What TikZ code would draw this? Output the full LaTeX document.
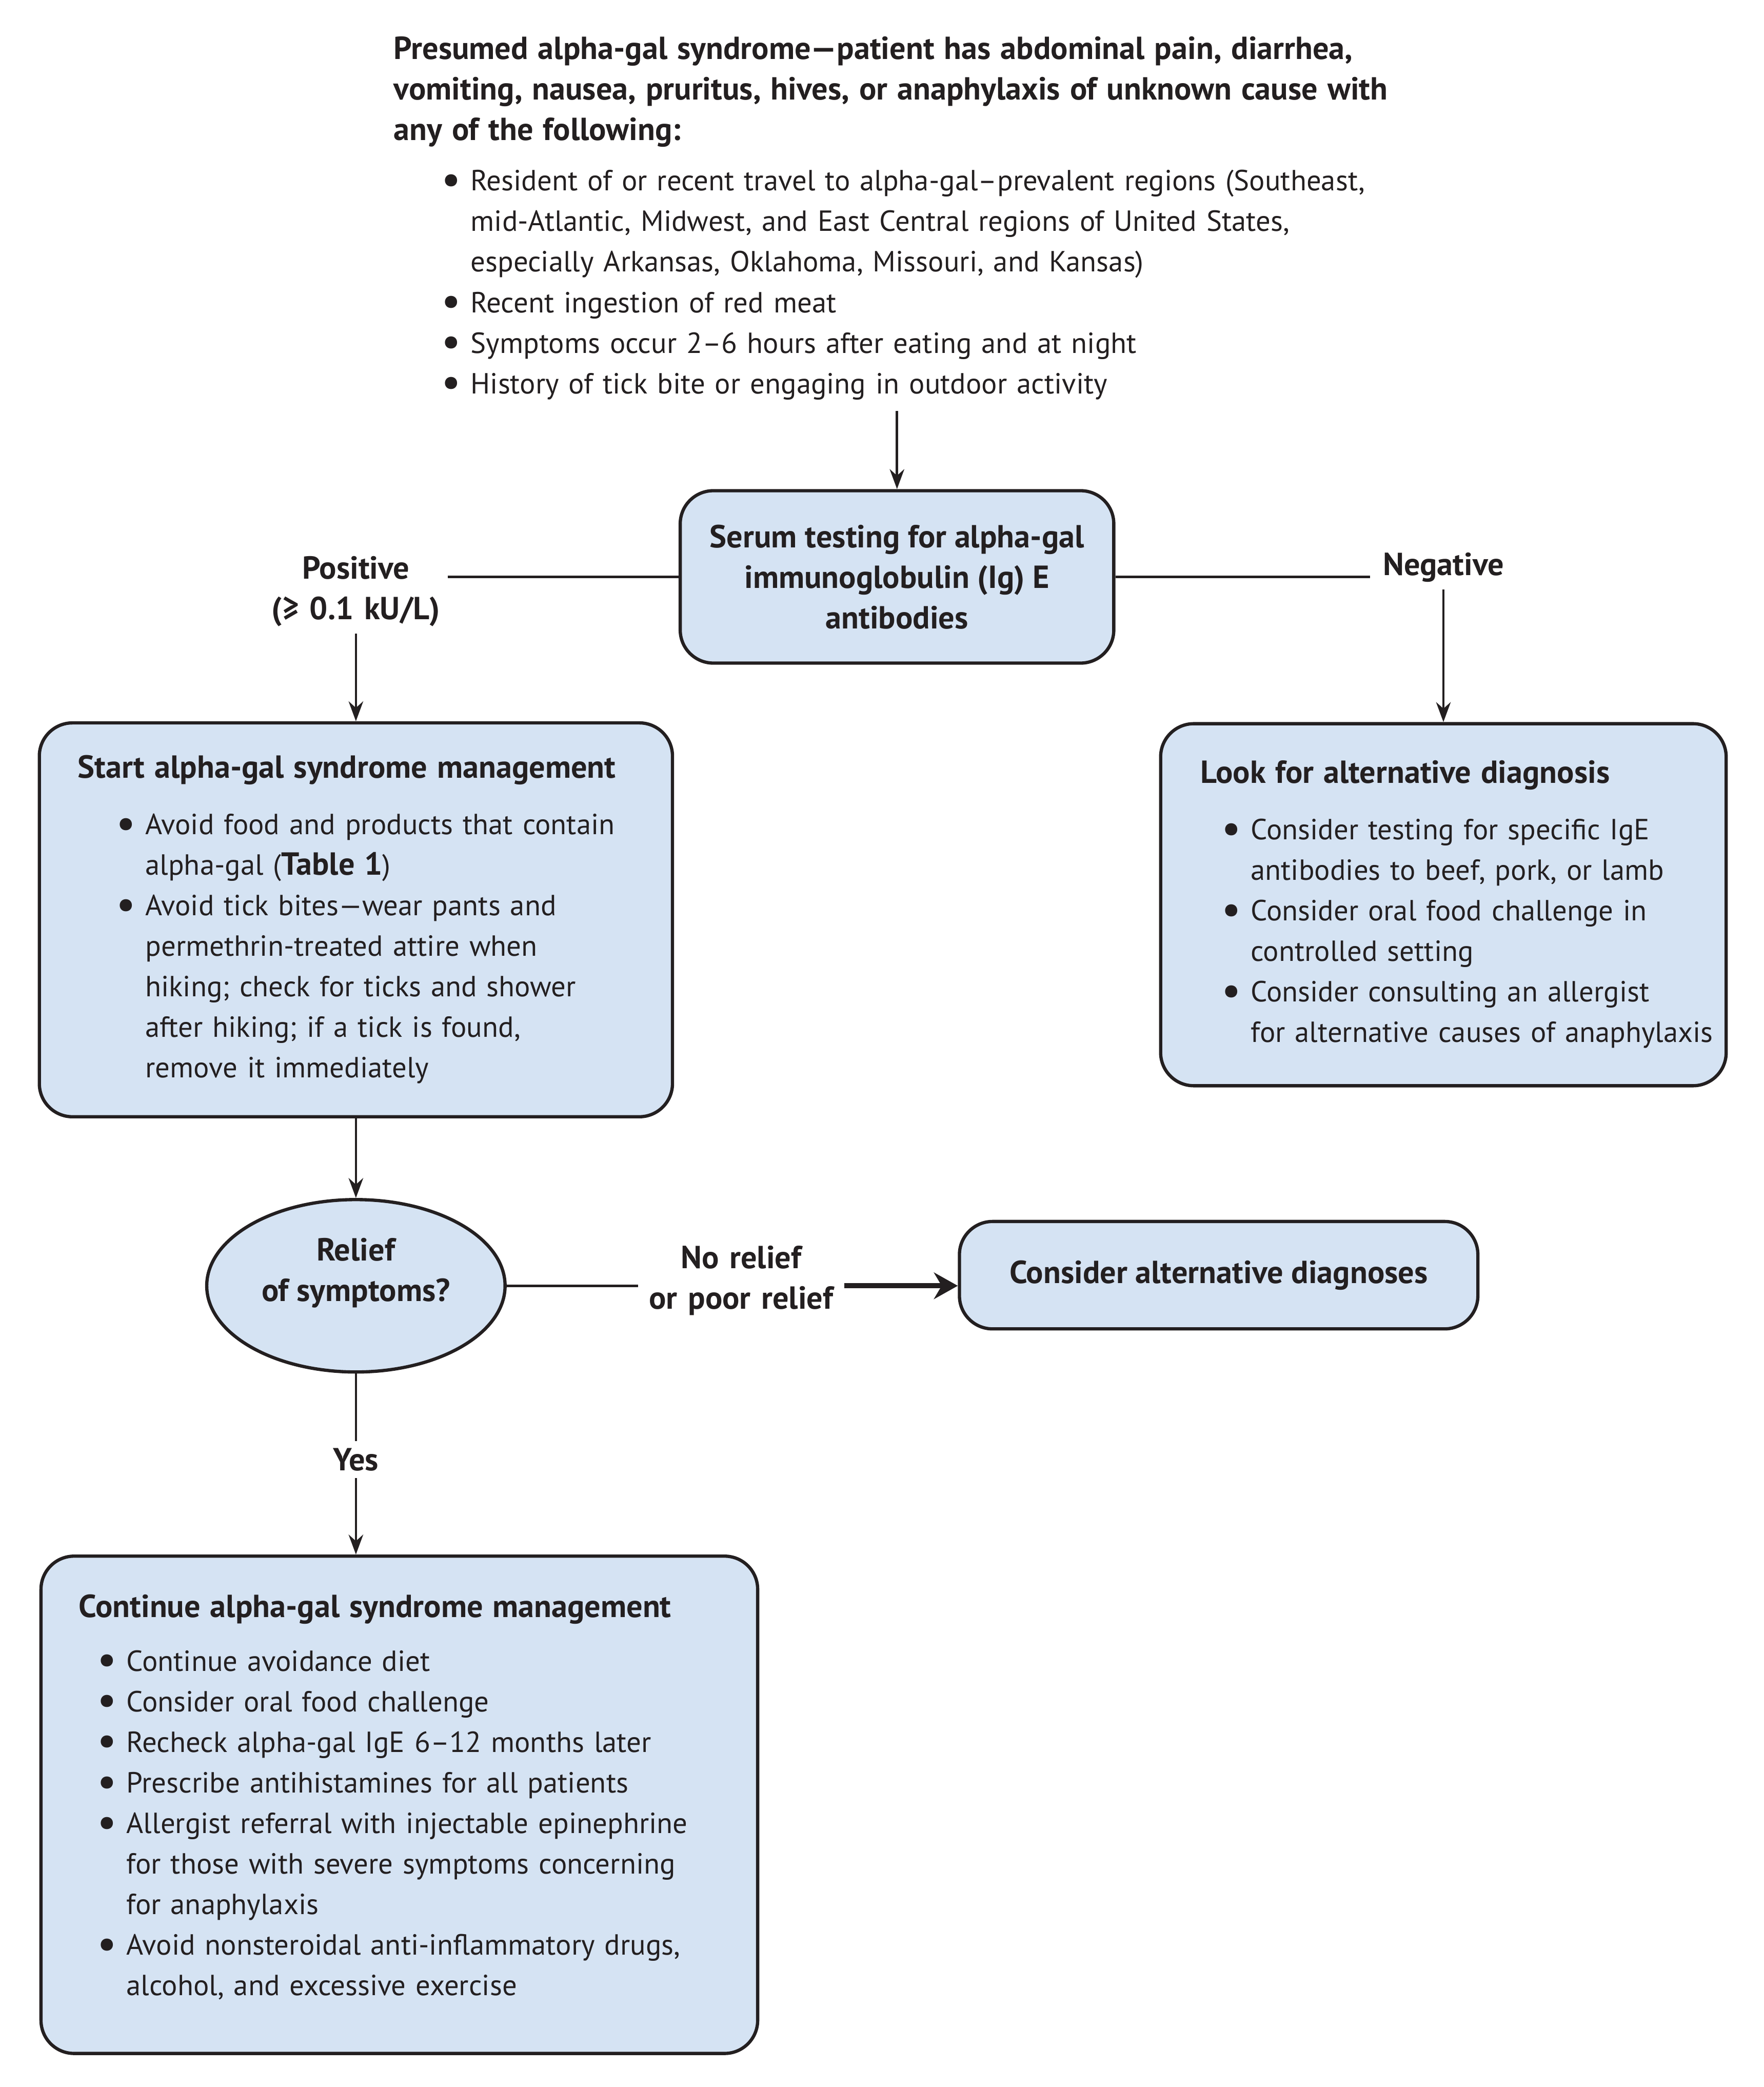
\documentclass[tikz,border=0pt]{standalone}
\usepackage{fontspec}
\setmainfont{PT Sans}
\usetikzlibrary{positioning,shapes.geometric,arrows.meta}
\definecolor{ink}{RGB}{35,31,32}
\definecolor{boxblue}{RGB}{213,227,243}
\newcommand{\figfont}{\fontsize{12.5pt}{17.4pt}\selectfont}
\newcommand{\figbold}{\fontsize{13.7pt}{17.4pt}\selectfont\bfseries}
\newcommand{\hd}[1]{{\figbold #1}}
\newcommand{\blt}{\makebox[0.29cm][l]{\makebox[0pt][c]{\raisebox{-1.5pt}{\scalebox{1.5}{\textbullet}}}}}
\tikzset{block/.style={draw=ink,line width=1.4pt,fill=boxblue,rounded corners=0.5cm,align=left},
         decision/.style={ellipse,draw=ink,line width=1.4pt,fill=boxblue,inner sep=0pt,align=center,font=\figbold},
         note/.style={font=\figbold,align=center,inner sep=0.1cm},
         line/.style={draw=ink,line width=1pt}
}
\tikzstyle{arrow} = [draw=ink,line width=1pt,-{Stealth[length=0.3cm,width=0.22cm]}]
\tikzstyle{bigarrow} = [draw=ink,line width=2.2pt,-{Stealth[length=0.36cm,width=0.4cm]}]

\begin{document}
\begin{tikzpicture}[every node/.style={font=\figfont,text=ink}]
\useasboundingbox (0,0) rectangle (26.6,-31.474);

\node[block,align=center,font=\figbold,minimum width=6.54cm,minimum height=2.6cm] (serum) at (13.53,-8.7) {Serum testing for alpha-gal\\immunoglobulin (Ig) E\\antibodies};
\node[text width=15.18cm,inner sep=0.07cm,above=1.18cm of serum] (intro) {%
\begin{tabular}{@{\hspace{0.87cm}}l@{}l@{}}
\multicolumn{2}{@{}l@{}}{\hd{Presumed alpha-gal syndrome—patient has abdominal pain, diarrhea,}}\\
\multicolumn{2}{@{}l@{}}{\hd{vomiting, nausea, pruritus, hives, or anaphylaxis of unknown cause with}}\\
\multicolumn{2}{@{}l@{}}{\hd{any of the following:}}\\[0.15cm]
\blt & Resident of or recent travel to alpha-gal–prevalent regions (Southeast,\\
 & mid-Atlantic, Midwest, and East Central regions of United States,\\
 & especially Arkansas, Oklahoma, Missouri, and Kansas)\\
\blt & Recent ingestion of red meat\\
\blt & Symptoms occur 2–6 hours after eating and at night\\
\blt & History of tick bite or engaging in outdoor activity
\end{tabular}};
\node[note,text width=2.56cm,left=3.48cm of serum,yshift=-0.22cm] (pos) {Positive\\(≥~0.1~kU/L)};
\node[note,text width=2cm,right=3.84cm of serum,yshift=0.14cm] (neg) {Negative};
\node[block,text width=8.39cm,inner xsep=0.58cm,inner ysep=0cm,minimum height=5.94cm,below=1.32cm of pos] (start) {%
\begin{tabular}{@{\hspace{0.73cm}}l@{}l@{}}
\multicolumn{2}{@{}l@{}}{\hd{Start alpha-gal syndrome management}}\\[0.24cm]
\blt & Avoid food and products that contain\\
 & alpha-gal (\hd{Table 1})\\
\blt & Avoid tick bites—wear pants and\\
 & permethrin-treated attire when\\
 & hiking; check for ticks and shower\\
 & after hiking; if a tick is found,\\
 & remove it immediately
\end{tabular}};
\node[block,text width=7.33cm,inner xsep=0.6cm,inner ysep=0cm,minimum height=5.46cm,below=2cm of neg] (look) {%
\begin{tabular}{@{\hspace{0.47cm}}l@{}l@{}}
\multicolumn{2}{@{}l@{}}{\hd{Look for alternative diagnosis}}\\[0.24cm]
\blt & Consider testing for specific IgE\\
 & antibodies to beef, pork, or lamb\\
\blt & Consider oral food challenge in\\
 & controlled setting\\
\blt & Consider consulting an allergist\\
 & for alternative causes of anaphylaxis
\end{tabular}};
\node[decision,minimum width=4.5cm,minimum height=2.6cm,below=1.2cm of start] (relief) {Relief\\of symptoms?\rule[-0.49cm]{0pt}{0.49cm}};
\node[note,text width=2.9cm,right=1.98cm of relief,yshift=0.08cm] (norelief) {No relief\\or~poor~relief};
\node[block,align=center,font=\figbold,minimum width=7.82cm,minimum height=1.62cm,right=1.71cm of norelief,yshift=0.08cm] (conalt) {Consider alternative diagnoses};
\node[note,below=1.02cm of relief] (yes) {Yes};
\node[block,text width=9.67cm,inner xsep=0.57cm,inner ysep=0cm,minimum height=7.5cm,below=1.15cm of yes,xshift=0.655cm] (cont) {%
\begin{tabular}{@{\hspace{0.43cm}}l@{}l@{}}
\multicolumn{2}{@{}l@{}}{\hd{Continue alpha-gal syndrome management}}\\[0.2cm]
\blt & Continue avoidance diet\\
\blt & Consider oral food challenge\\
\blt & Recheck alpha-gal IgE 6–12 months later\\
\blt & Prescribe antihistamines for all patients\\
\blt & Allergist referral with injectable epinephrine\\
 & for those with severe symptoms concerning\\
 & for anaphylaxis\\
\blt & Avoid nonsteroidal anti-inflammatory drugs,\\
 & alcohol, and excessive exercise\\[0.2cm]
\end{tabular}};

\draw[arrow] (intro)--(serum);
\draw[line] (serum.west)--(serum.west -| pos.east);
\draw[line] (serum.east)--(serum.east -| neg.west);
\draw[arrow] (pos)--(start);
\draw[arrow] (neg)--(look);
\draw[arrow] (start)--(relief);
\draw[line] (relief.east)--(relief.east -| norelief.west);
\draw[bigarrow] (relief.east -| norelief.east)--(relief.east -| conalt.west);
\draw[line] (relief)--(yes);
\draw[arrow] (yes)--(yes |- cont.north);

\end{tikzpicture}
\end{document}
